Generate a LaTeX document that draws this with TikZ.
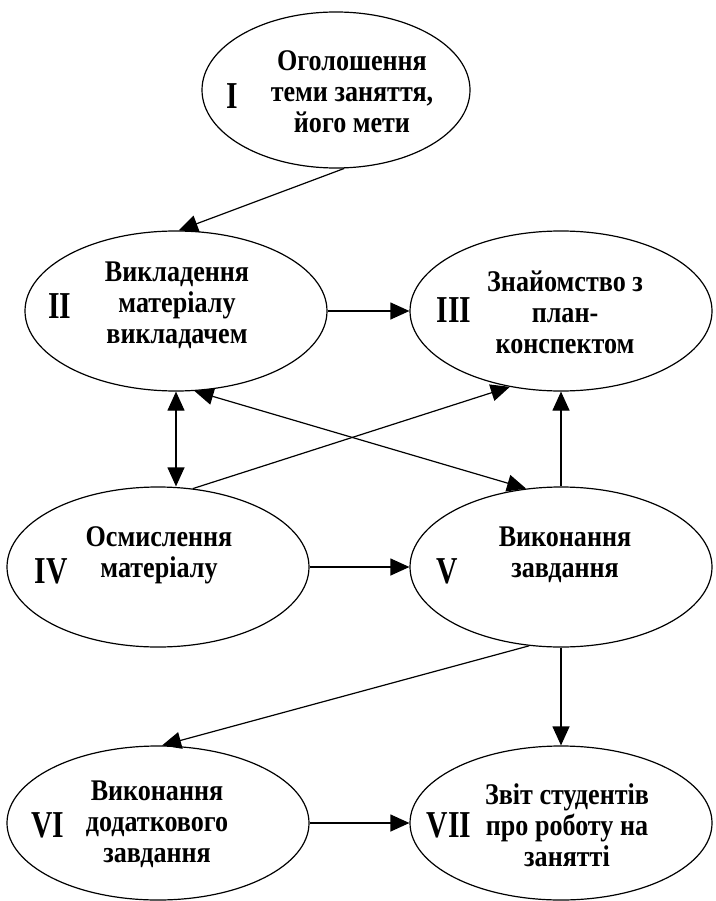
\documentclass[tikz,border=0pt]{standalone}
\usepackage{fontspec}
\setmainfont{Liberation Serif}
\newfontfamily\stagefont[FakeStretch=0.87]{Liberation Serif}
\newfontfamily\romanfont[FakeStretch=0.78]{Liberation Serif}
\usetikzlibrary{shapes.geometric,arrows.meta}

\begin{document}
\begin{tikzpicture}[x=1pt,y=-1pt,
  stage/.style={ellipse,draw,line width=1.2pt,minimum width=302pt,minimum height=160pt,inner sep=0pt},
  num/.style={font=\romanfont\fontsize{38}{38}\selectfont\bfseries},
  txt/.style={align=center,font=\stagefont\fontsize{30}{31}\selectfont\bfseries},
  arr/.style={line width=1.2pt,-{Triangle[length=19pt,width=17pt]}},
  twoarr/.style={line width=1.2pt,{Triangle[length=19pt,width=17pt]}-{Triangle[length=19pt,width=17pt]}}]
\useasboundingbox (0,0) rectangle (715,901);
% stages of the lesson
\node [stage,minimum width=268pt,minimum height=156pt] (I) at (336,90) {};
\node [stage] (II) at (176,311) {};
\node [stage] (III) at (561,311) {};
\node [stage] (IV) at (158,567) {};
\node [stage] (V) at (561,567) {};
\node [stage,minimum height=154pt] (VI) at (158,823) {};
\node [stage,minimum height=154pt] (VII) at (561,823) {};
% numbers and texts
\node [num] (I-n) at (232,96) {I};
\node [txt] (I-t) at (352,92) {Оголошення\\теми заняття,\\його мети};
\node [num] (II-n) at (60,306) {II};
\node [txt] (II-t) at (177,305) {Викладення\\матеріалу\\викладачем};
\node [num] (III-n) at (454,310) {III};
\node [txt] (III-t) at (565,312) {Знайомство з\\план-\\конспектом};
\node [num] (IV-n) at (51,571) {IV};
\node [txt] (IV-t) at (159,555) {Осмислення\\матеріалу};
\node [num] (V-n) at (447,571) {V};
\node [txt] (V-t) at (565,555) {Виконання\\завдання};
\node [num] (VI-n) at (48,825) {VI};
\node [txt] (VI-t) at (157,824) {Виконання\\додаткового\\завдання};
\node [num] (VII-n) at (449,825) {VII};
\node [txt] (VII-t) at (567,825) {Звіт студентів\\про роботу на\\занятті};
% arrows
\draw [arr] (I.-84) -- (II.88);
\draw [arr] (II.east) -- (III.west);
\draw [twoarr] (II.south) -- (II.south |- IV.north);
\draw [twoarr] (II.-77) -- (V.114);
\draw [arr] (IV.66) -- (III.-124);
\draw [arr] (V.north) -- (III.south);
\draw [arr] (IV.east) -- (V.west);
\draw [arr] (V.-112) -- (VI.87);
\draw [arr] (V.south) -- (VII.north);
\draw [arr] (VI.east) -- (VII.west);
\end{tikzpicture}
\end{document}
